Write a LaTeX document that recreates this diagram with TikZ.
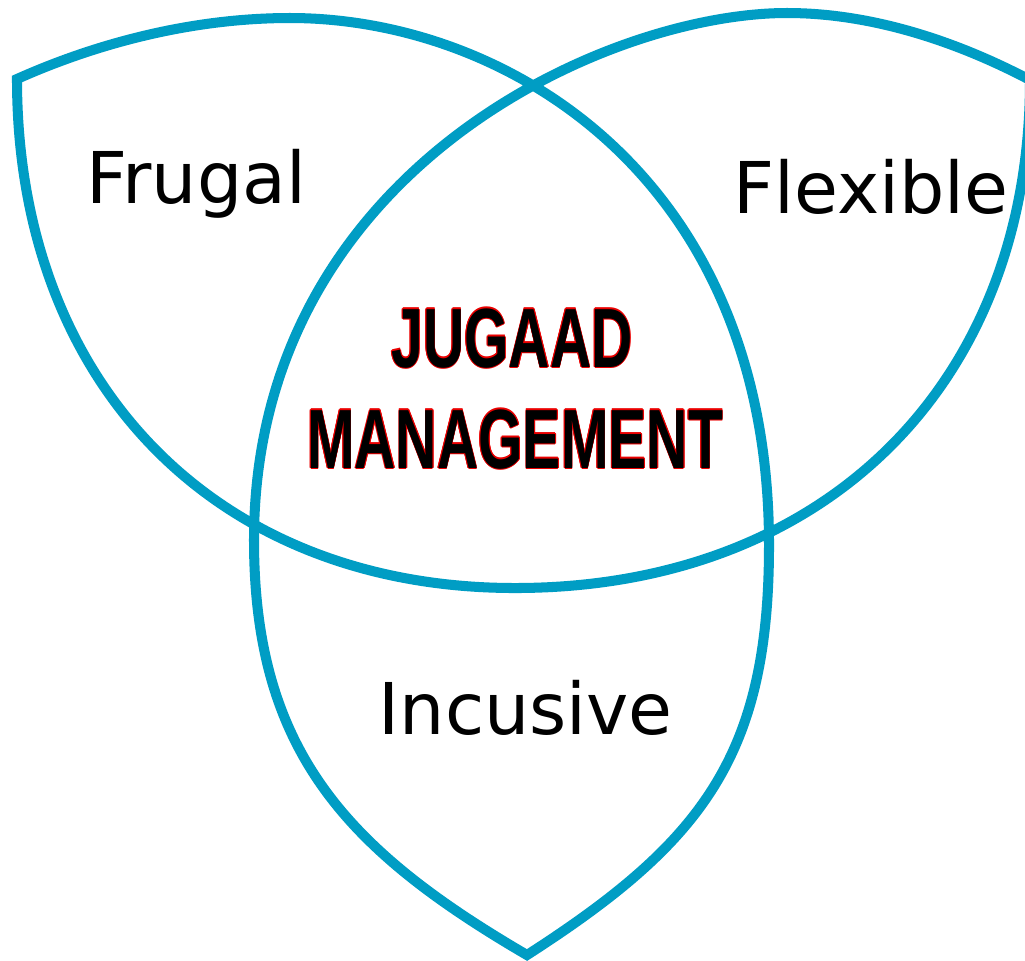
\documentclass[tikz,border=0pt]{standalone}
\usepackage{fontspec}
\usepackage{graphicx}
\setmainfont{DejaVu Sans}
\newfontfamily\jfont{Liberation Sans}
\definecolor{vennblue}{RGB}{0,157,196}
\definecolor{outlinered}{RGB}{235,0,0}
\newcommand\outlinedtext[1]{\leavevmode
  \rlap{\color{outlinered}\hspace{0.32pt}#1}%
  \rlap{\color{outlinered}\hspace{-0.32pt}#1}%
  \rlap{\color{outlinered}\raisebox{0.32pt}{#1}}%
  \rlap{\color{outlinered}\raisebox{-0.32pt}{#1}}%
  \rlap{\color{outlinered}\hspace{0.23pt}\raisebox{0.23pt}{#1}}%
  \rlap{\color{outlinered}\hspace{-0.23pt}\raisebox{0.23pt}{#1}}%
  \rlap{\color{outlinered}\hspace{0.23pt}\raisebox{-0.23pt}{#1}}%
  \rlap{\color{outlinered}\hspace{-0.23pt}\raisebox{-0.23pt}{#1}}%
  {\color{black}#1}}
\tikzset{
  vennline/.style={draw=vennblue, line width=2.85pt, line join=miter, miter limit=20},
  lbl/.style={inner sep=0pt, text=black, font=\fontsize{20.3}{24}\selectfont, anchor=base west},
  jug/.style={inner sep=0pt, font=\jfont\bfseries\fontsize{23.9}{28}\selectfont, anchor=base}
}
\begin{document}
\begin{tikzpicture}[x=0.01cm,y=-0.01cm]
\useasboundingbox (0,0) rectangle (1025,960);
\fill[white] (0,0) rectangle (1025,960);
\clip (0,0) rectangle (1025,960);
\coordinate (TL) at (17,79);
\coordinate (TR) at (1030,80);
\coordinate (B) at (527,955);
\coordinate (Cbot) at (515,588);
\coordinate (Btop) at (787,13);
\coordinate (Bleft) at (254,540);
\coordinate (Atop) at (290,18);
\coordinate (Aright) at (769,545);
% three curved sides, joined at the three tips
\draw[vennline] (TL)
  .. controls (17,384) and (216,588) .. (Cbot)
  .. controls (824,588) and (1030,385) .. (TR)
  .. controls (956,41) and (871,13) .. (Btop)
  .. controls (606,13) and (254,171) .. (Bleft)
  .. controls (254,750) and (345.6,849.2) .. (B)
  .. controls (703.4,841.6) and (769,755) .. (Aright)
  .. controls (769,176) and (505.6,18) .. (Atop)
  .. controls (197,18) and (102,41) .. cycle;
\node[lbl] (frugal) at (86,203) {Frugal};
\node[lbl] (flexible) at (733,213) {Flexible};
\node[lbl] (incusive) at (378,734) {Incusive};
\node[jug] (jug1) at (512,367) {\scalebox{0.68}[1]{\outlinedtext{JUGAAD}}};
\node[jug] (jug2) at (515,468) {\scalebox{0.68}[1]{\outlinedtext{MANAGEMENT}}};
\end{tikzpicture}
\end{document}
